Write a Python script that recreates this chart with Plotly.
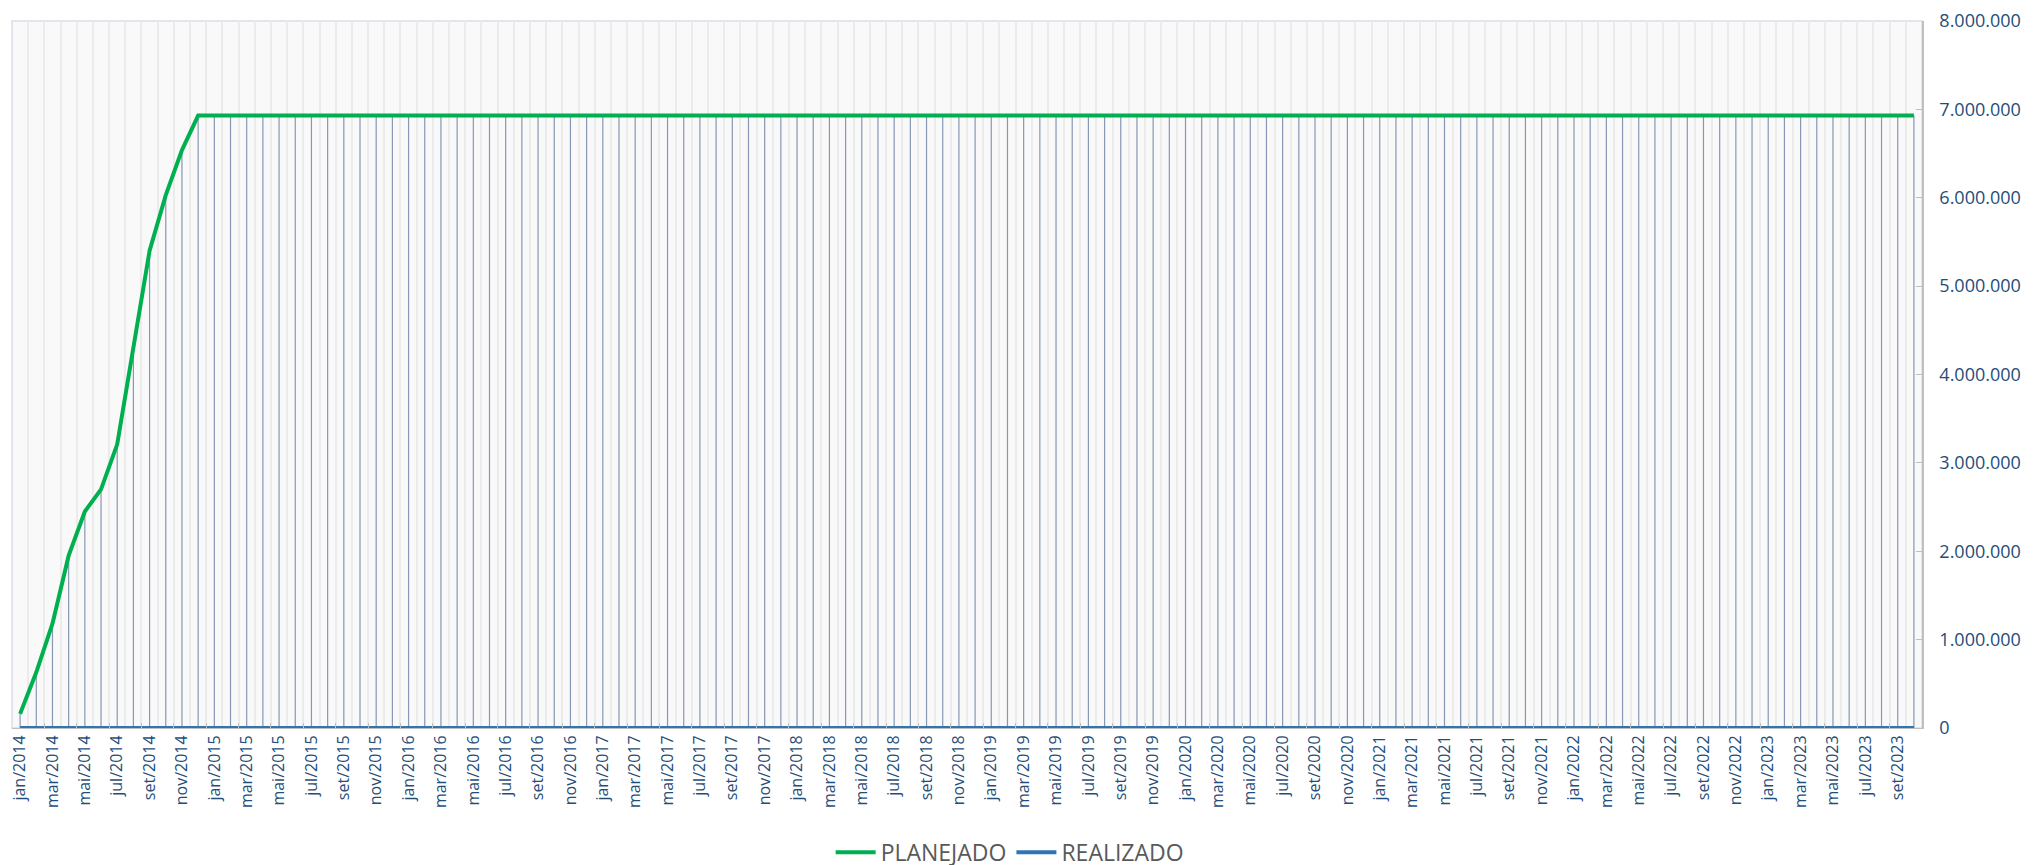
import plotly.graph_objects as go

months_pt = ["jan", "fev", "mar", "abr", "mai", "jun", "jul", "ago", "set", "out", "nov", "dez"]
years = list(range(2014, 2024))
categories = [f"{m}/{y}" for y in years for m in months_pt][:118]  # jan/2014 .. out/2023

planejado_ramp = [160000, 630000, 1180000, 1950000, 2450000, 2700000, 3210000,
                  4280000, 5400000, 6030000, 6540000, 6930000]
planejado_plateau = 6930000
planejado = planejado_ramp + [planejado_plateau] * (len(categories) - len(planejado_ramp))
realizado = [0] * len(categories)

x_idx = list(range(len(categories)))
label_idx = x_idx[::2]
label_text = [categories[i] for i in label_idx]
boundary_ticks = [i - 0.5 for i in x_idx[::2]]

fig = go.Figure()

# drop lines from planned series to zero
fig.add_trace(go.Scatter(
    x=x_idx, y=planejado, mode="markers",
    marker=dict(size=1, opacity=0),
    error_y=dict(type="data", symmetric=False, array=[0] * len(planejado),
                 arrayminus=planejado, width=0, thickness=1.2, color="#8797b5"),
    showlegend=False, hoverinfo="skip",
))

fig.add_trace(go.Scatter(
    x=x_idx, y=planejado, mode="lines", name="PLANEJADO",
    line=dict(color="#00b050", width=4),
))
fig.add_trace(go.Scatter(
    x=x_idx, y=realizado, mode="lines", name="REALIZADO",
    line=dict(color="#2e75b6", width=4),
))

# invisible trace on second x axis for boundary tick marks
fig.add_trace(go.Scatter(x=[x_idx[0]], y=[0], xaxis="x2", mode="markers",
                         marker=dict(opacity=0), showlegend=False, hoverinfo="skip"))

fig.update_layout(
    width=2041, height=865,
    margin=dict(l=4, r=127, t=13, b=145),
    paper_bgcolor="white",
    plot_bgcolor="#f9f9f9",
    separators=",.",
    font=dict(family="Open Sans", color="#1f4e79"),
    xaxis=dict(
        range=[-0.5, len(categories) - 0.5], automargin=False,
        tickmode="array", tickvals=label_idx, ticktext=label_text,
        tickangle=-90, tickfont=dict(size=16, color="#1f4e79"),
        ticklabeloverflow="allow",
        showgrid=False, zeroline=False, ticks="",
        showline=True, linecolor="#bfbfbf", linewidth=1,
        minor=dict(tickmode="linear", tick0=-0.5, dtick=1, showgrid=True,
                   gridcolor="#ebebeb", gridwidth=1.5),
    ),
    xaxis2=dict(
        overlaying="x", anchor="y", side="bottom", automargin=False,
        range=[-0.5, len(categories) - 0.5],
        tickmode="array", tickvals=boundary_ticks,
        ticks="inside", ticklen=5, tickcolor="#bfbfbf",
        showticklabels=False, showgrid=False, zeroline=False,
    ),
    yaxis=dict(
        side="right", range=[0, 8000000], dtick=1000000, automargin=False,
        tickformat=",d", tickfont=dict(size=18, color="#1f4e79"),
        ticklabeloverflow="allow",
        showgrid=False, zeroline=False,
        showline=True, linecolor="#bfbfbf", linewidth=1.5,
        ticks="inside", ticklen=6, tickcolor="#bfbfbf",
        ticklabelstandoff=12,
    ),
    legend=dict(
        orientation="h", xref="container", yref="container",
        x=0.491, xanchor="center", y=0.024, yanchor="middle",
        font=dict(size=23, color="#595959"),
        itemwidth=40, tracegroupgap=0,
    ),
    shapes=[dict(type="rect", xref="paper", yref="paper", x0=0, x1=1, y0=0, y1=1,
                 line=dict(color="#d9dee8", width=1.5), layer="below")],
)

fig.write_html("out.html")
